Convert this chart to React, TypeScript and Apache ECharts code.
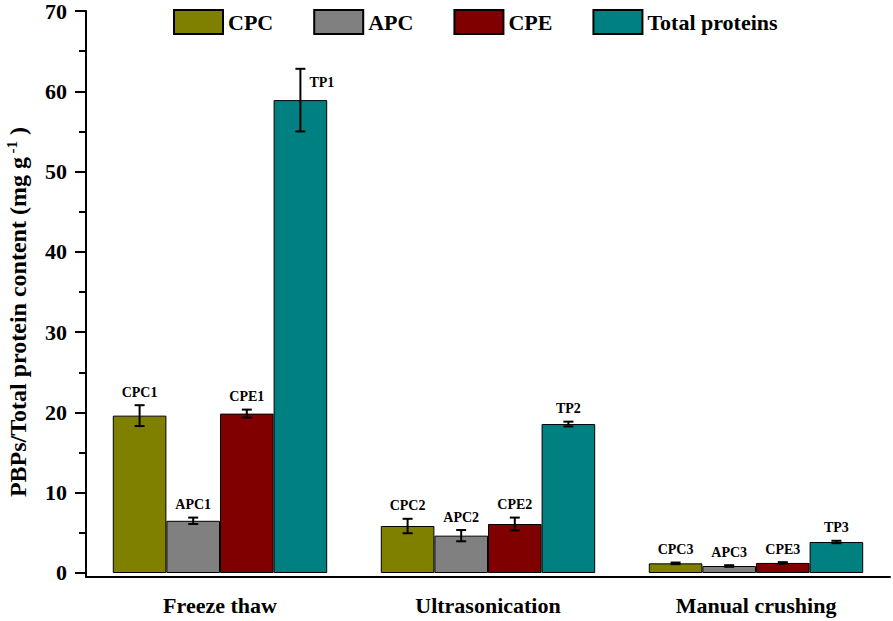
import React, { useEffect, useRef } from "react";
import * as echarts from "echarts";

const categories = ["Freeze thaw", "Ultrasonication", "Manual crushing"];
const seriesNames = ["CPC", "APC", "CPE", "Total proteins"];
const cpcValues = [19.6, 5.85, 1.2];
const apcValues = [6.5, 4.65, 0.87];
const cpeValues = [19.85, 6.1, 1.25];
const tpValues = [58.9, 18.55, 3.86];
const cpcErrors = [1.3, 0.9, 0.1];
const apcErrors = [0.4, 0.7, 0.1];
const cpeErrors = [0.5, 0.8, 0.1];
const tpErrors = [3.9, 0.3, 0.15];
const cpcLabels = ["CPC1", "CPC2", "CPC3"];
const apcLabels = ["APC1", "APC2", "APC3"];
const cpeLabels = ["CPE1", "CPE2", "CPE3"];
const tpLabels = ["TP1", "TP2", "TP3"];
const sideLabels = ["TP1"];
const yMajorTicks = [0, 10, 20, 30, 40, 50, 60, 70];
const yMinorTicks = [5, 15, 25, 35, 45, 55, 65];

const colors = ["#808000", "#808080", "#800000", "#008080"];
const FONT = '"Liberation Serif", "Times New Roman", serif';

export default function App() {
  const ref = useRef<HTMLDivElement>(null);
  useEffect(() => {
    document.body.style.margin = "0";
    if (!ref.current) return;
    const chart = echarts.init(ref.current, undefined, { renderer: "svg" });
    const values = [cpcValues, apcValues, cpeValues, tpValues];
    const errors = [cpcErrors, apcErrors, cpeErrors, tpErrors];
    const labels = [cpcLabels, apcLabels, cpeLabels, tpLabels];

    const barSeries = seriesNames.map((name, s) => ({
      name,
      type: "bar",
      xAxisIndex: 0,
      yAxisIndex: 0,
      data: values[s],
      barGap: "0%",
      barCategoryGap: "20%",
      itemStyle: { color: colors[s], borderColor: "#000", borderWidth: 1 },
      z: 2,
    }));

    const errSeries = seriesNames.map((name, s) => ({
      name: name + " err",
      type: "custom",
      xAxisIndex: 0,
      yAxisIndex: 0,
      clip: false,
      z: 5,
      encode: { x: 0, y: 1 },
      data: values[s].map((v, i) => [i, v, errors[s][i]]),
      renderItem: (params: any, api: any) => {
        const ci = api.value(0);
        const v = api.value(1);
        const e = api.value(2);
        const bandW = api.size([1, 0])[0];
        const bw = bandW * 0.2;
        const cx = api.coord([ci, v])[0] + (s - 1.5) * bw;
        const yt = api.coord([ci, v + e])[1];
        const yb = api.coord([ci, v - e])[1];
        const lab = labels[s][params.dataIndex];
        const side = sideLabels.indexOf(lab) >= 0;
        const ls = { stroke: "#000", lineWidth: 2 };
        return {
          type: "group",
          children: [
            { type: "line", shape: { x1: cx, y1: yt, x2: cx, y2: yb }, style: ls },
            { type: "line", shape: { x1: cx - 5, y1: yt, x2: cx + 5, y2: yt }, style: ls },
            { type: "line", shape: { x1: cx - 5, y1: yb, x2: cx + 5, y2: yb }, style: ls },
            {
              type: "text",
              style: {
                text: lab,
                x: side ? cx + 9 : cx,
                y: side ? yt + 14 : yt - 6,
                fill: "#000",
                fontSize: 14,
                fontWeight: "bold",
                fontFamily: FONT,
                align: side ? "left" : "center",
                verticalAlign: side ? "middle" : "bottom",
              },
            },
          ],
        };
      },
    }));

    chart.setOption({
      animation: false,
      backgroundColor: "#fff",
      grid: { left: 86, right: 3, top: 11, bottom: 44, containLabel: false },
      legend: {
        data: seriesNames,
        left: 168,
        top: 4,
        icon: "rect",
        itemWidth: 49,
        itemHeight: 24,
        itemGap: 40,
        textStyle: { fontSize: 22, fontWeight: "bold", fontFamily: FONT, color: "#000" },
      },
      xAxis: [
        {
          type: "category",
          data: categories,
          position: "bottom",
          boundaryGap: true,
          axisLine: { onZero: false, lineStyle: { color: "#000", width: 2 } },
          axisTick: { alignWithLabel: true, length: 12, lineStyle: { color: "#000", width: 2 } },
          axisLabel: { fontSize: 22, fontWeight: "bold", fontFamily: FONT, color: "#000", margin: 17 },
          splitLine: { show: false },
        },
        {
          type: "category",
          data: categories,
          position: "bottom",
          boundaryGap: true,
          axisLine: { show: false, onZero: false },
          axisTick: { alignWithLabel: false, length: 6, lineStyle: { color: "#000", width: 2 } },
          axisLabel: { show: false },
          splitLine: { show: false },
        },
      ],
      yAxis: [
        {
          type: "value",
          position: "left",
          min: -0.5,
          max: 70,
          axisLine: { show: true, onZero: false, lineStyle: { color: "#000", width: 2 } },
          axisTick: { show: true, customValues: yMajorTicks, length: 11, lineStyle: { color: "#000", width: 2 } },
          axisLabel: {
            customValues: yMajorTicks,
            fontSize: 22,
            fontWeight: "bold",
            fontFamily: FONT,
            color: "#000",
            margin: 19,
          },
          splitLine: { show: false },
        },
        {
          type: "value",
          position: "left",
          min: -0.5,
          max: 70,
          axisLine: { show: false, onZero: false },
          axisTick: { show: true, customValues: yMinorTicks, length: 7, lineStyle: { color: "#000", width: 2 } },
          axisLabel: { show: false, customValues: yMinorTicks },
          splitLine: { show: false },
        },
      ],
      graphic: [
        {
          type: "text",
          x: 18,
          y: 312,
          rotation: Math.PI / 2,
          style: {
            text: "{t|PBPs/Total protein content (mg g}{s| -1}{t| )}",
            align: "center",
            verticalAlign: "middle",
            fill: "#000",
            rich: {
              t: { fontSize: 24, fontWeight: "bold", fontFamily: FONT, fill: "#000", lineHeight: 28 },
              s: { fontSize: 15, fontWeight: "bold", fontFamily: FONT, fill: "#000", verticalAlign: "top", lineHeight: 28 },
            },
          },
        },
      ],
      series: [...barSeries, ...errSeries],
    });
    return () => chart.dispose();
  }, []);
  return <div ref={ref} style={{ width: 893, height: 621 }} />;
}
